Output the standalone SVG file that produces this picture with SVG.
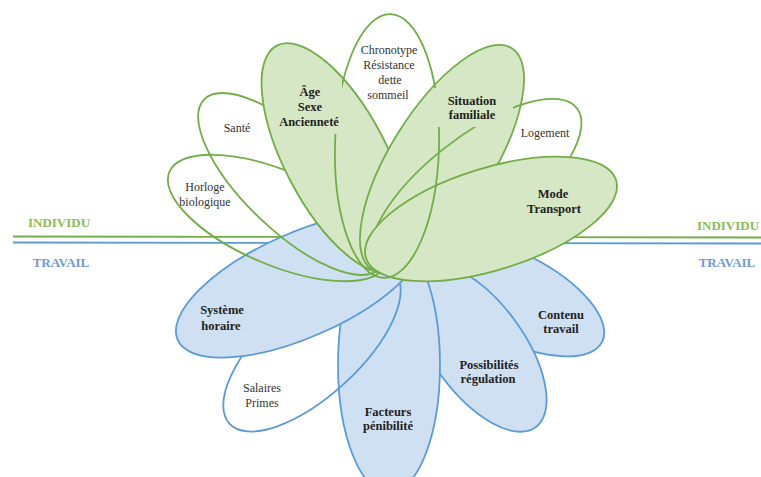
<svg xmlns="http://www.w3.org/2000/svg" width="761" height="477" viewBox="0 0 761 477">
<style>
.gf{fill:#d5e7c5;stroke:#72ad47;stroke-width:1.8}
.gn{fill:none;stroke:#72ad47;stroke-width:1.8}
.bf{fill:#cfe0f2;stroke:#5b9bd5;stroke-width:1.8}
.bn{fill:none;stroke:#5b9bd5;stroke-width:1.8}
text{font-family:"Liberation Serif","Times New Roman",serif;text-anchor:middle;fill:#222}
.r{font-size:12px;fill:#333}
.b{font-size:12.5px;font-weight:bold}
.side{font-size:13px;font-weight:bold}
</style>
<defs>
<mask id="mk" maskUnits="userSpaceOnUse" x="0" y="0" width="761" height="477">
<rect width="761" height="477" fill="#fff"/>
<rect x="276" y="83" width="66" height="51" fill="#000"/>
<rect x="431" y="88" width="82" height="39" fill="#000"/>
</mask>
</defs>
<rect width="761" height="477" fill="#fff"/>
<g id="connectors">
<line x1="13" y1="236.5" x2="761" y2="237.5" stroke="#72ad47" stroke-width="1.8"/>
<line x1="13" y1="242.5" x2="761" y2="243.5" stroke="#5b9bd5" stroke-width="1.8"/>
</g>
<g id="contenu-travail"><ellipse class="bf" cx="511" cy="296" rx="102" ry="44" transform="rotate(26.7 511 296)"/><text class="b" x="561" y="319">Contenu</text><text class="b" x="561" y="333">travail</text></g>
<g id="possibilites-regulation"><ellipse class="bf" cx="478" cy="348" rx="98" ry="46" transform="rotate(54 478 348)"/><text class="b" x="489" y="369">Possibilités</text><text class="b" x="488" y="383">régulation</text></g>
<g id="facteurs-penibilite"><ellipse class="bf" cx="389" cy="365" rx="51" ry="128"/><text class="b" x="388" y="416">Facteurs</text><text class="b" x="388" y="430">pénibilité</text></g>
<g id="salaires-primes"><ellipse class="bn" cx="312" cy="348" rx="112" ry="48" transform="rotate(-42.5 312 348)"/><text class="r" x="262" y="392">Salaires</text><text class="r" x="262" y="407">Primes</text></g>
<g id="systeme-horaire"><ellipse class="bf" cx="301" cy="285" rx="135" ry="52" transform="rotate(-24 301 285)"/><text class="b" x="222" y="314">Système</text><text class="b" x="221" y="330">horaire</text></g>
<g id="horloge-biologique"><ellipse class="gn" cx="278" cy="218" rx="118" ry="47" transform="rotate(23 278 218)"/><text class="r" x="205" y="191">Horloge</text><text class="r" x="205" y="206">biologique</text></g>
<g id="sante"><ellipse class="gn" cx="292" cy="184" rx="122" ry="47" transform="rotate(43.8 292 184)"/><text class="r" x="237" y="132">Santé</text></g>
<g id="age-sexe-anciennete"><ellipse class="gf" cx="336" cy="158" rx="127" ry="51" transform="rotate(62.2 336 158)"/><text class="b" x="310" y="96">Âge</text><text class="b" x="310" y="111">Sexe</text><text class="b" x="309" y="126">Ancienneté</text></g>
<g id="situation-familiale"><ellipse class="gf" cx="442" cy="159" rx="131" ry="51" transform="rotate(-57.8 442 159)"/><text class="b" x="472" y="105">Situation</text><text class="b" x="472" y="119">familiale</text></g>
<g id="logement"><g mask="url(#mk)"><ellipse class="gn" cx="476" cy="187" rx="128" ry="50" transform="rotate(-38 476 187)"/></g><text class="r" x="545" y="137">Logement</text></g>
<g id="mode-transport"><ellipse class="gf" cx="491" cy="219" rx="131" ry="51" transform="rotate(-17.3 491 219)"/><text class="b" x="553" y="198">Mode</text><text class="b" x="554" y="213">Transport</text></g>
<g id="chronotype"><g mask="url(#mk)"><ellipse class="gn" cx="387" cy="146" rx="132" ry="52" transform="rotate(-88.5 387 146)"/></g><text class="r" x="389" y="54">Chronotype</text><text class="r" x="389" y="69">Résistance</text><text class="r" x="390" y="84">dette</text><text class="r" x="388" y="99">sommeil</text></g>
<g id="labels">
<text class="side" x="59" y="227" style="fill:#8cbc56">INDIVIDU</text>
<text class="side" x="61" y="267" style="fill:#6f9bd6">TRAVAIL</text>
<text class="side" x="728" y="230" style="fill:#8cbc56">INDIVIDU</text>
<text class="side" x="727" y="267" style="fill:#6f9bd6">TRAVAIL</text>
</g>
</svg>
